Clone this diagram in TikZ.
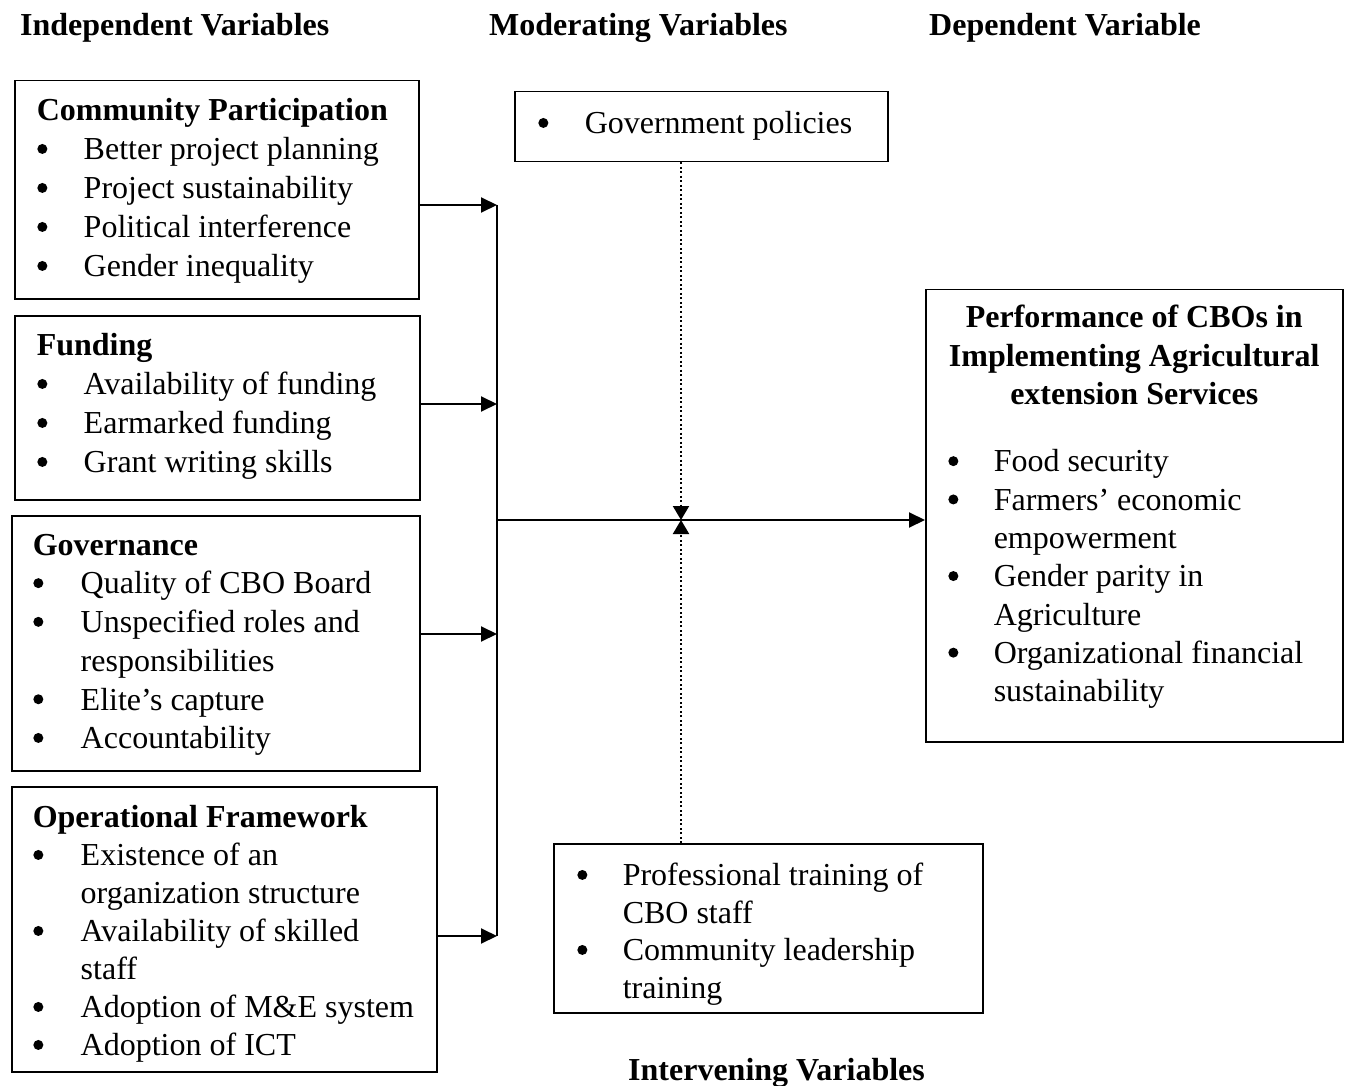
\documentclass[tikz,border=0pt]{standalone}
\usepackage{fontspec}
\setmainfont{Liberation Serif}
\usetikzlibrary{arrows.meta}
\newlength\padl
\newlength\bwid
% box content: width, height, left pad, bullet width, baselineskip, first baseline from top, content
\newcommand\vbx[7]{\parbox[c][#2][t]{#1}{\fontsize{32pt}{#5}\selectfont\setlength\padl{#3}\setlength\bwid{#4}\setlength\parindent{0pt}\vspace*{\dimexpr#6-0.7\baselineskip\relax}#7}}
\newcommand\bdot{\tikz[baseline=0pt]{\useasboundingbox (0pt,0pt) rectangle (11pt,1pt);\fill (5.6pt,10.8pt) circle[radius=5pt];}}
\newcommand\Ti[1]{\noindent\hspace*{\padl}\strut\textbf{#1}\par}
\newcommand\Bu[1]{\noindent\hspace*{\padl}\strut\makebox[\bwid][l]{\bdot}#1\par}
\newcommand\Co[1]{\noindent\hspace*{\padl}\hspace*{\bwid}\strut#1\par}
\newcommand\Ct[1]{\noindent\makebox[\linewidth]{\strut\textbf{#1}}\par}
\begin{document}
\begin{tikzpicture}[x=1pt,y=1pt,
  box/.style={draw, line width=1.5pt, inner sep=0pt, anchor=north west},
  hdr/.style={inner sep=0pt, anchor=base west, font=\fontsize{32pt}{38pt}\selectfont\bfseries},
  conn/.style={line width=2pt},
  arr/.style={line width=2pt, -{Triangle[length=16pt,width=15pt]}},
  dotarr/.style={line width=2pt, dash pattern=on 2pt off 2.5pt, -{Triangle[length=14pt,width=16pt]}}]
\useasboundingbox (0,0) rectangle (1350,-1086);

% headers
\node[hdr] (hind) at (20,-36) {Independent Variables};
\node[hdr] (hmod) at (489,-36) {Moderating Variables};
\node[hdr] (hdep) at (929,-36) {Dependent Variable};
\node[hdr] (hint) at (628,-1080) {Intervening Variables};

% independent variable boxes
\node[box] (cp) at (14,-80) {\vbx{404pt}{218pt}{22pt}{47pt}{39pt}{40pt}{%
  \Ti{Community Participation}
  \Bu{Better project planning}
  \Bu{Project sustainability}
  \Bu{Political interference}
  \Bu{Gender inequality}}};

\node[box] (fu) at (14,-315) {\vbx{405pt}{184pt}{22pt}{47pt}{39pt}{40pt}{%
  \Ti{Funding}
  \Bu{Availability of funding}
  \Bu{Earmarked funding}
  \Bu{Grant writing skills}}};

\node[box] (go) at (11,-515) {\vbx{408pt}{255pt}{21pt}{48pt}{38.7pt}{39.5pt}{%
  \Ti{Governance}
  \Bu{Quality of CBO Board}
  \Bu{Unspecified roles and}
  \Co{responsibilities}
  \Bu{Elite’s capture}
  \Bu{Accountability}}};

\node[box] (of) at (11,-786) {\vbx{425pt}{285pt}{21pt}{48pt}{38pt}{41pt}{%
  \Ti{Operational Framework}
  \Bu{Existence of an}
  \Co{organization structure}
  \Bu{Availability of skilled}
  \Co{staff}
  \Bu{Adoption of M\&E system}
  \Bu{Adoption of ICT}}};

% moderating variable
\node[box] (gp) at (514,-91) {\vbx{373pt}{70pt}{23pt}{47pt}{38.5pt}{42pt}{%
  \Bu{Government policies}}};

% intervening variables
\node[box] (iv) at (553,-843) {\vbx{429pt}{169pt}{23pt}{46pt}{37.5pt}{42pt}{%
  \Bu{Professional training of}
  \Co{CBO staff}
  \Bu{Community leadership}
  \Co{training}}};

% dependent variable
\node[box] (pf) at (925,-289) {\vbx{417pt}{452pt}{22pt}{46pt}{38.3pt}{38pt}{%
  \Ct{Performance of CBOs in}
  \Ct{Implementing Agricultural}
  \Ct{extension Services}
  \vspace{29.3pt}
  \Bu{Food security}
  \Bu{Farmers’ economic}
  \Co{empowerment}
  \Bu{Gender parity in}
  \Co{Agriculture}
  \Bu{Organizational financial}
  \Co{sustainability}}};

% junction points
\coordinate (j1) at (497,-205);
\coordinate (j2) at (497,-404);
\coordinate (j3) at (497,-634);
\coordinate (j4) at (497,-936);
\coordinate (j0) at (497,-520);
\coordinate (m) at (681,-520);

% connectors
\draw[arr] (cp.east |- j1) -- (j1);
\draw[arr] (fu.east |- j2) -- (j2);
\draw[arr] (go.east |- j3) -- (j3);
\draw[arr] (of.east |- j4) -- (j4);
\draw[conn] (j1) -- (j4);
\draw[arr] (j0) -- (pf.west |- j0);
\draw[dotarr] (gp.south -| m) -- (m);
\draw[dotarr] (iv.north -| m) -- (m);
\end{tikzpicture}
\end{document}
